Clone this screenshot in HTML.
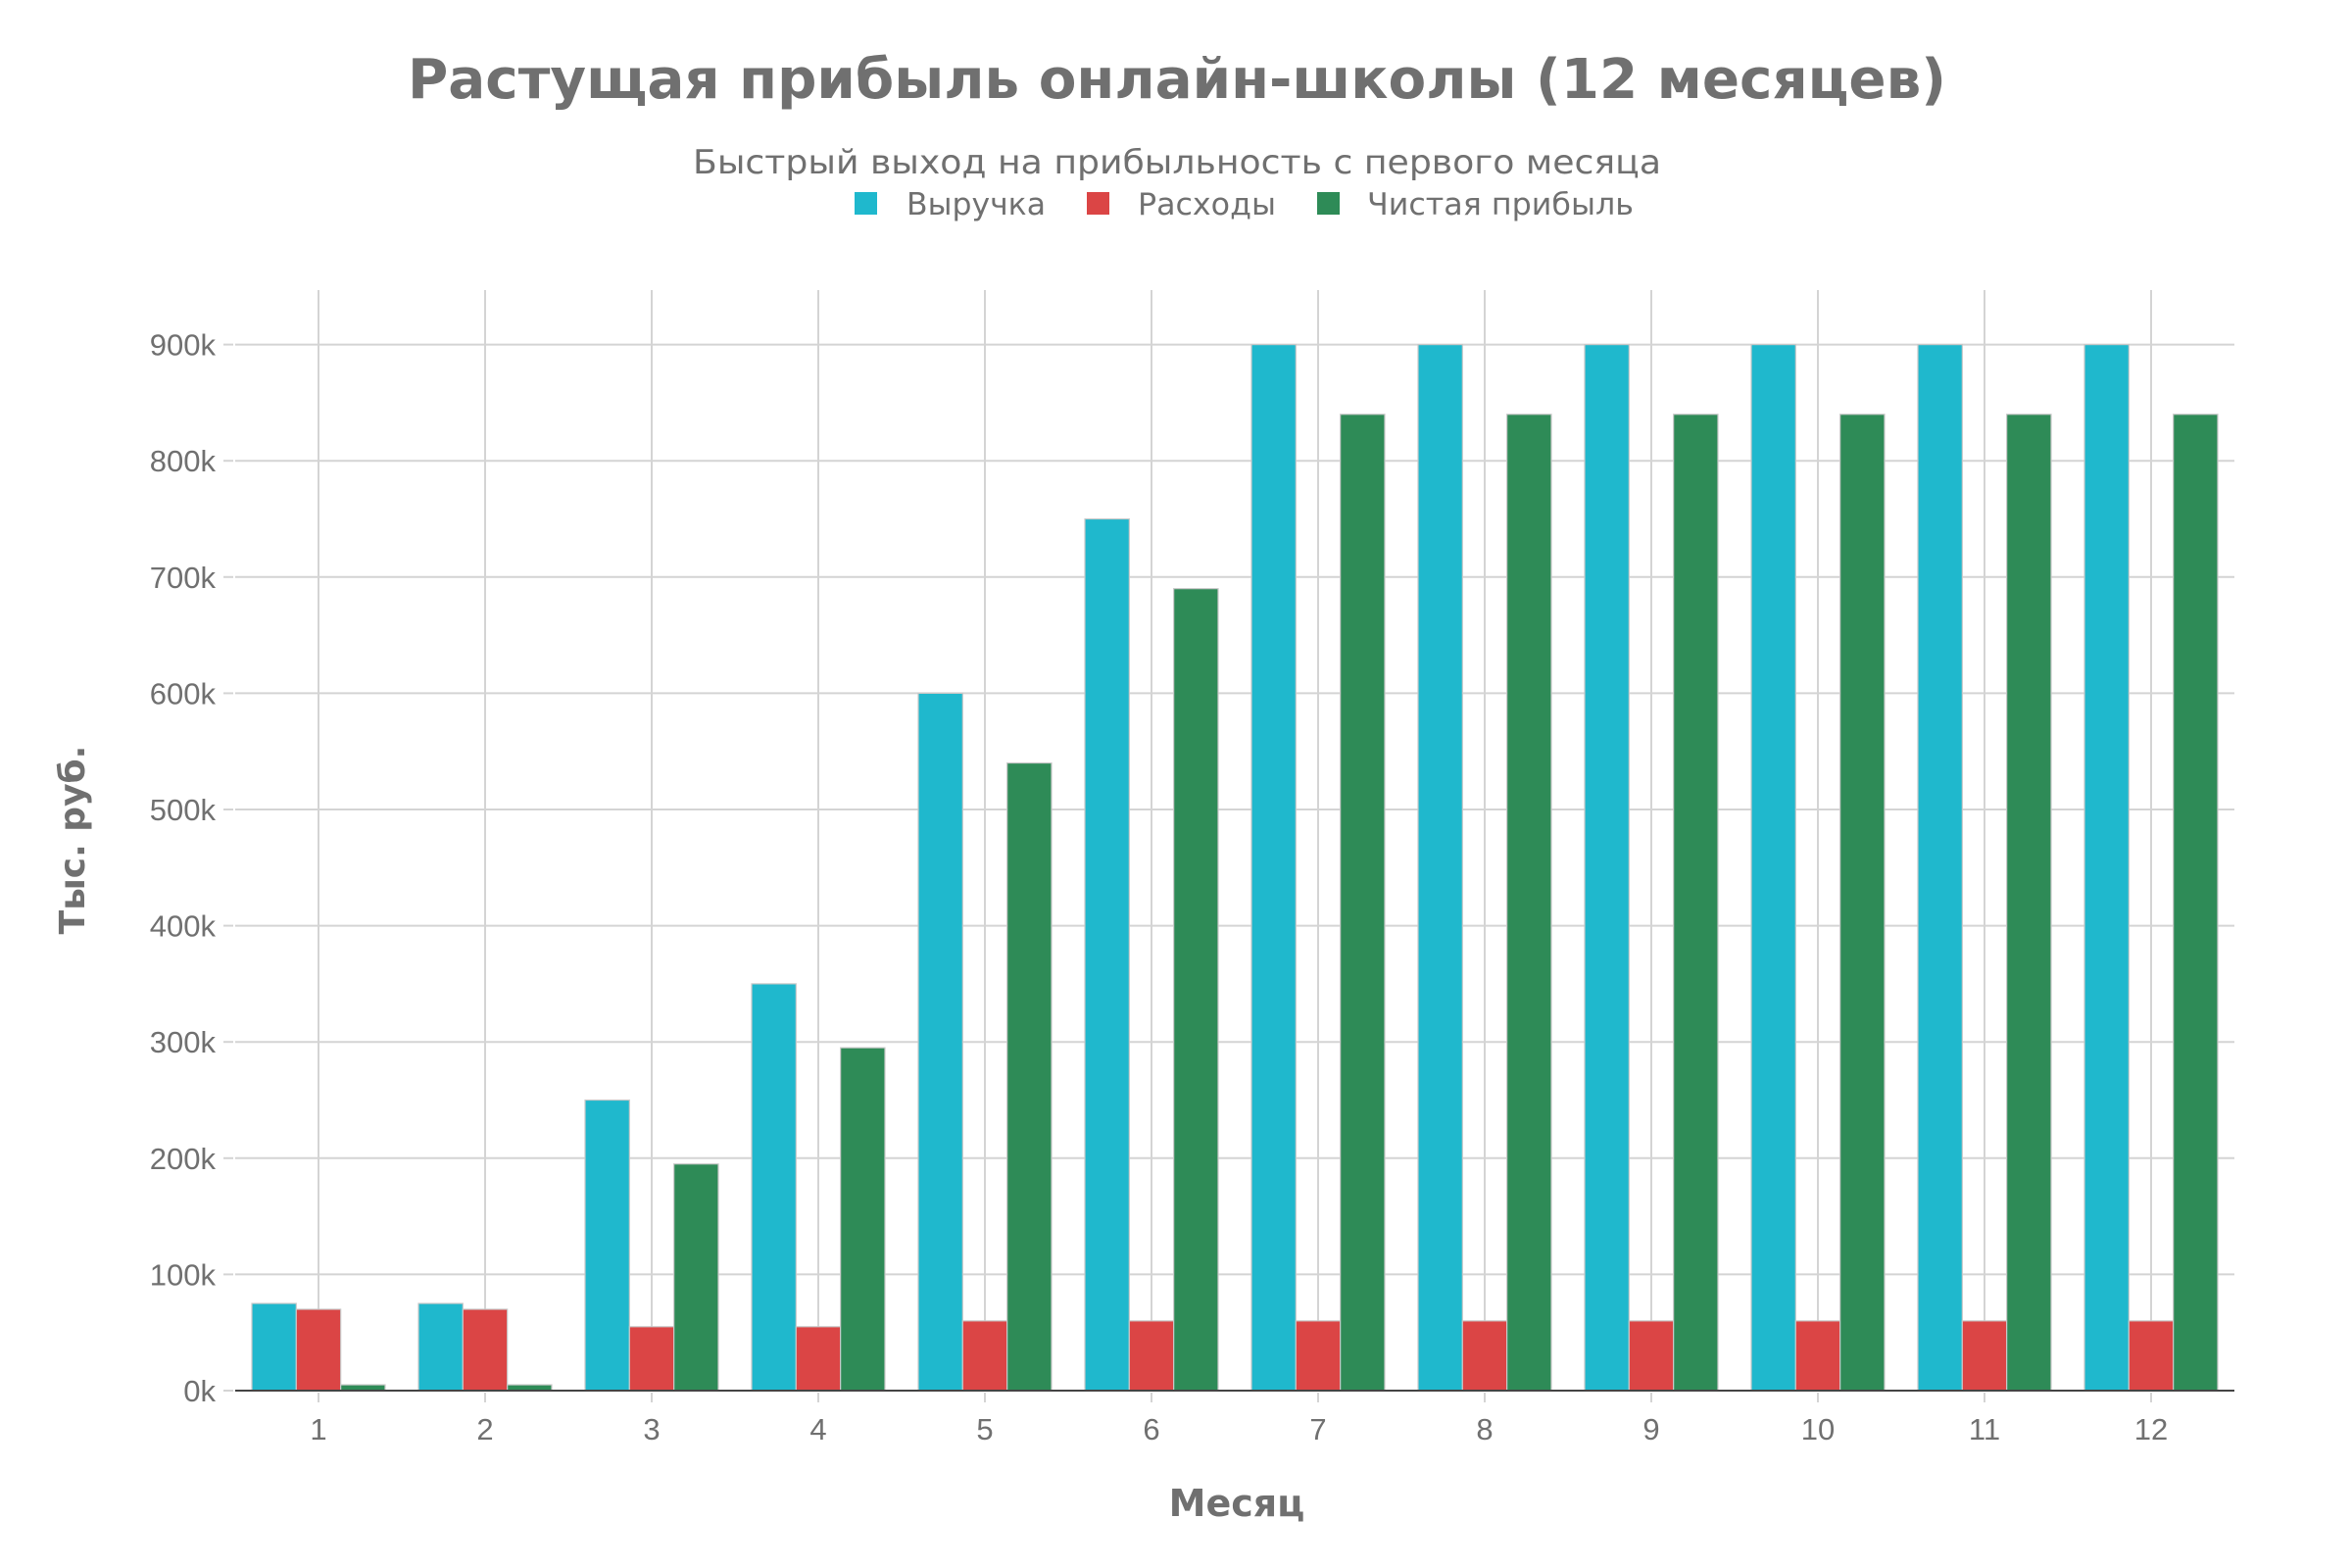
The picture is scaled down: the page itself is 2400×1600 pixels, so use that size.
<!DOCTYPE html>
<html><head><meta charset="utf-8"><style>html,body{margin:0;padding:0;background:#fff}svg{display:block}</style></head>
<body>
<svg width="2400" height="1600" xmlns="http://www.w3.org/2000/svg" font-family="'Liberation Sans','DejaVu Sans',sans-serif" fill="#707070">
<rect width="2400" height="1600" fill="#fff"/>
<text x="1201" y="100" text-anchor="middle" font-family="'DejaVu Sans',sans-serif" font-weight="bold" font-size="56" textLength="1570" lengthAdjust="spacingAndGlyphs">Растущая прибыль онлайн-школы (12 месяцев)</text>
<text x="1201" y="177" text-anchor="middle" font-family="'DejaVu Sans',sans-serif" font-size="34" textLength="988" lengthAdjust="spacingAndGlyphs">Быстрый выход на прибыльность с первого месяца</text>
<g font-family="'DejaVu Sans',sans-serif" font-size="31">
<rect x="872" y="196" width="23" height="23" fill="#1fb8cd"/><text x="925" y="219" textLength="142" lengthAdjust="spacingAndGlyphs">Выручка</text>
<rect x="1109" y="196" width="23" height="23" fill="#db4545"/><text x="1161" y="219" textLength="141" lengthAdjust="spacingAndGlyphs">Расходы</text>
<rect x="1344" y="196" width="23" height="23" fill="#2e8b57"/><text x="1395" y="219" textLength="272" lengthAdjust="spacingAndGlyphs">Чистая прибыль</text>
</g>
<g id="grid" stroke="#d4d4d4" stroke-width="2"></g>
<g id="bars"></g>
<g id="labels" font-size="31"></g>
<line x1="240" y1="1419" x2="2280" y2="1419" stroke="#444" stroke-width="2"/>
<text x="1262" y="1547" text-anchor="middle" font-family="'DejaVu Sans',sans-serif" font-weight="bold" font-size="38">Месяц</text>
<text transform="translate(86,857) rotate(-90)" text-anchor="middle" font-family="'DejaVu Sans',sans-serif" font-weight="bold" font-size="36">Тыс. руб.</text>
</svg>
<script>
var NS="http://www.w3.org/2000/svg";
function el(p,t,a,txt){var e=document.createElementNS(NS,t);for(var k in a)e.setAttribute(k,a[k]);if(txt!=null)e.textContent=txt;p.appendChild(e);return e;}
var g=document.getElementById('grid'),b=document.getElementById('bars'),l=document.getElementById('labels');
var y0=1419,u=1.186;
for(var i=0;i<=9;i++){var y=y0-i*100*u;
 if(i>0)el(g,'line',{x1:240,y1:y,x2:2280,y2:y});
 el(g,'line',{x1:228,y1:y,x2:238,y2:y});
 el(l,'text',{x:220,y:y+11,'text-anchor':'end'},i*100+'k');}
var rev=[75,75,250,350,600,750,900,900,900,900,900,900],exp=[70,70,55,55,60,60,60,60,60,60,60,60],net=[5,5,195,295,540,690,840,840,840,840,840,840];
var cols=['#1fb8cd','#db4545','#2e8b57'];
for(var c=0;c<12;c++){var cx=325+c*170;
 el(g,'line',{x1:cx,y1:296,x2:cx,y2:1419});
 el(g,'line',{x1:cx,y1:1421,x2:cx,y2:1431});
 el(l,'text',{x:cx,y:1469,'text-anchor':'middle'},c+1);
 [rev[c],exp[c],net[c]].forEach(function(v,k){var h=v*u;
  el(b,'rect',{x:cx-68+k*45.33,y:y0-h,width:45.33,height:h,fill:cols[k],stroke:'#c8c8c8','stroke-width':1.2});});}
</script>
</body></html>
